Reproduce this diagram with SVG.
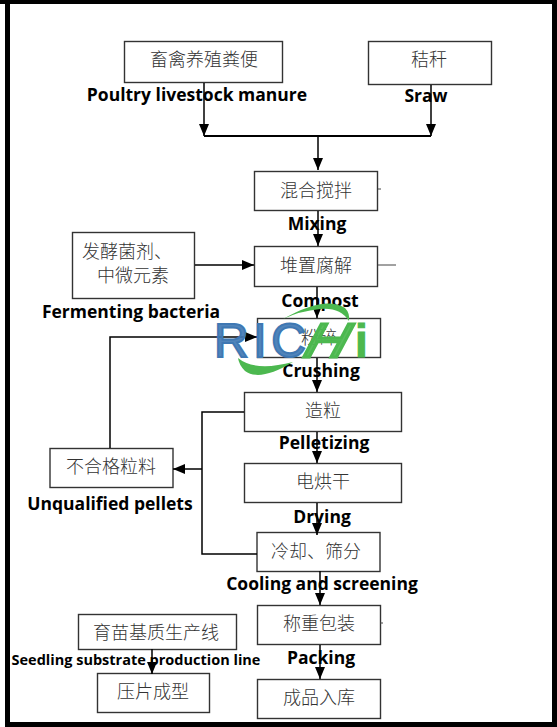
<svg xmlns="http://www.w3.org/2000/svg" width="557" height="727" viewBox="0 0 557 727">
<style>
.b{fill:#fff;stroke:#333;stroke-width:1.4}
.z{font-family:"Noto Sans CJK SC","Liberation Serif",sans-serif;font-size:18px;fill:#333;text-anchor:middle;font-weight:300}
.e{font-family:"Open Sans","DejaVu Sans",sans-serif;font-size:17.5px;font-weight:700;fill:#000;text-anchor:middle}
.c{fill:none;stroke:#000;stroke-width:1.5}
.g{fill:#4cb84f}
.l{font-family:"Liberation Sans",sans-serif;font-size:48px}
</style>
<defs><marker id="a" markerUnits="userSpaceOnUse" markerWidth="13" markerHeight="11" refX="12" refY="5" orient="auto"><path d="M0 0L12 5L0 10Z" fill="#000"/></marker></defs>
<rect width="557" height="727" fill="#fff"/>
<path d="M0 0H557V4H10V722H552V4H557V727H5V4H0Z" fill="#000"/>
<g id="nodes">
<g id="n1"><rect class="b" x="124.500" y="41.500" width="158" height="41"/><text class="z" x="204" y="66">畜禽养殖粪便</text></g>
<g id="n2"><rect class="b" x="368.500" y="41.500" width="123" height="43"/><text class="z" x="429" y="66">秸秆</text></g>
<g id="n3"><rect class="b" x="254.500" y="171.500" width="123" height="39"/><text class="z" x="316" y="197">混合搅拌</text></g>
<g id="n4"><rect class="b" x="72.500" y="232.500" width="122" height="66"/><text class="z" x="127" y="258">发酵菌剂、</text><text class="z" x="133" y="282">中微元素</text></g>
<g id="n5"><rect class="b" x="254.500" y="246.500" width="123" height="40"/><text class="z" x="316" y="272">堆置腐解</text></g>
<g id="n6"><rect class="b" x="257.500" y="318.500" width="123" height="39"/><text class="z" x="319" y="344">粉碎</text></g>
<g id="n7"><rect class="b" x="244.500" y="392.500" width="157" height="39"/><text class="z" x="323" y="417">造粒</text></g>
<g id="n8"><rect class="b" x="244.500" y="463.500" width="157" height="39"/><text class="z" x="323" y="488">电烘干</text></g>
<g id="n9"><rect class="b" x="257" y="532.500" width="123" height="39"/><text class="z" x="316" y="558">冷却、筛分</text></g>
<g id="n10"><rect class="b" x="50" y="448.500" width="123" height="39"/><text class="z" x="111" y="473">不合格粒料</text></g>
<g id="n11"><rect class="b" x="257.500" y="605.500" width="123" height="39"/><text class="z" x="319" y="630">称重包装</text></g>
<g id="n12"><rect class="b" x="257.500" y="679.500" width="123" height="39"/><text class="z" x="319" y="704">成品入库</text></g>
<g id="n13"><rect class="b" x="78.500" y="614.500" width="158" height="35"/><text class="z" x="156" y="639">育苗基质生产线</text></g>
<g id="n14"><rect class="b" x="97.500" y="673.500" width="112" height="39"/><text class="z" x="153" y="698">压片成型</text></g>
</g>
<g id="connectors">
<path class="c" marker-end="url(#a)" d="M204 83V136"/>
<path class="c" marker-end="url(#a)" d="M431 85V136"/>
<path class="c" d="M204 136H431" style="stroke-width:2"/>
<path class="c" marker-end="url(#a)" d="M318 136V170"/>
<path class="c" marker-end="url(#a)" d="M318 211V246"/>
<path class="c" marker-end="url(#a)" d="M195 265H254"/>
<path class="c" marker-end="url(#a)" d="M317 287V318"/>
<path class="c" marker-end="url(#a)" d="M110 448V337H257"/>
<path class="c" marker-end="url(#a)" d="M317 358V392"/>
<path class="c" marker-end="url(#a)" d="M317 432V463"/>
<path class="c" marker-end="url(#a)" d="M317 503V535"/>
<path class="c" d="M244 412H202V554H257"/>
<path class="c" marker-end="url(#a)" d="M202 469H173"/>
<path class="c" marker-end="url(#a)" d="M320 571V605"/>
<path class="c" marker-end="url(#a)" d="M320 645V679"/>
<path class="c" marker-end="url(#a)" d="M152 649V674"/>
<path d="M378 189H381M378 265H396M380 623H383" fill="none" stroke="#444" stroke-width="1"/>
</g>
<g id="labels">
<text class="e" x="197" y="101">Poultry livestock manure</text>
<text class="e" x="426" y="102">Sraw</text>
<text class="e" x="317" y="230">Mixing</text>
<text class="e" x="320" y="307">Compost</text>
<text class="e" x="131" y="318">Fermenting bacteria</text>
<text class="e" x="321" y="377">Crushing</text>
<text class="e" x="324" y="449">Pelletizing</text>
<text class="e" x="322" y="523">Drying</text>
<text class="e" x="110" y="510">Unqualified pellets</text>
<text class="e" x="322" y="590">Cooling and screening</text>
<text class="e" x="321" y="664">Packing</text>
<text class="e" x="136" y="665" style="font-size:14.5px">Seedling substrate production line</text>
</g>
<g id="logo">
<text class="l" x="214" y="357" fill="#3f78b3" fill-opacity=".92" stroke="#3f78b3" stroke-width="2" textLength="92">RIC</text>
<path class="g" d="M283 319Q325 295 345 308Q350 313 349 321Q340 307 320 309Q300 311 283 319Z"/>
<path class="g" d="M238 358Q255 372 293 362Q260 382 245 371Q239 365 238 358Z"/>
<text class="l g" transform="translate(299 357) skewX(-28) scale(1.22 1)" stroke="#4cb84f" stroke-width="3" fill-opacity=".92">H</text>
<text class="l g" x="355" y="357" font-weight="700" stroke="#4cb84f" stroke-width="1" style="font-size:46px">i</text>
</g>
</svg>
